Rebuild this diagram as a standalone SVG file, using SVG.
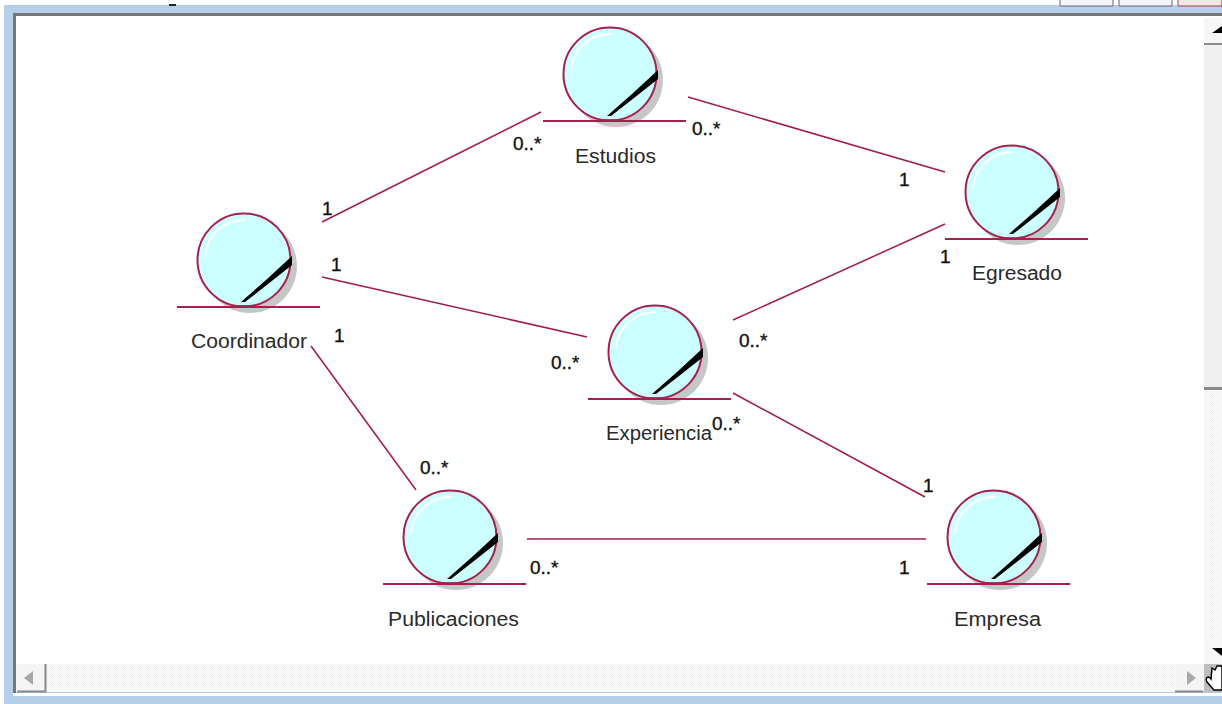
<svg xmlns="http://www.w3.org/2000/svg" width="1222" height="704" viewBox="0 0 1222 704">
<style>
text{font-family:"Liberation Sans",Arial,sans-serif;font-size:20px;fill:#2a2a2a}
.m{fill:#111;font-size:19px;stroke:#111;stroke-width:.35}
.conn line{stroke:#a01c4a;stroke-width:1.5;fill:none}
.circ{fill:#ccffff;stroke:#a5204f;stroke-width:2}
.base{stroke:#a5204f;stroke-width:2;fill:none}
.shine{fill:none;stroke:#fff;stroke-width:2}
.sh{fill:#c6c6c6}
</style>
<defs>
<pattern id="dots" width="2" height="2" patternUnits="userSpaceOnUse"><rect width="2" height="2" fill="#fff"/><rect width="1" height="1" fill="#efefef"/><rect x="1" y="1" width="1" height="1" fill="#efefef"/></pattern>
<g id="ent">
<circle class="sh" cx="6" cy="6" r="47"/>
<circle class="circ" r="46.500"/>
<path class="shine" d="M-39 -3A39 39 0 0 1 1 -40"/>
<polygon points="-3,42 22,20 48,-4 48,5 24,24 1,42" fill="#000"/>
<line class="base" x1="-67" y1="47" x2="76" y2="47"/>
<line x1="-10" y1="46" x2="10" y2="46" stroke="#a5204f" stroke-width="1.500"/>
</g>
</defs>
<rect width="1222" height="704" fill="#fff"/>
<path d="M4 5H1222V14H16V692H1222V704H4Z" fill="#b6cfe8"/>
<path d="M14.500 693V14.500H1222" fill="none" stroke="#777" stroke-width="3"/>
<rect x="13" y="693" width="1209" height="3" fill="#fff"/>
<path d="M1060 0V6H1113V0M1119 0V6H1172V0" fill="#f3f5f8" stroke="#667"/>
<path d="M1178 0V6H1222V0" fill="#f6e6e6" stroke="#a04050"/>
<rect x="169" y="4" width="7" height="2" fill="#223"/>
<g id="scrollbars">
<rect x="16" y="664" width="1188" height="28" fill="url(#dots)"/>
<rect x="1204" y="390" width="18" height="250" fill="url(#dots)"/>
<rect x="1204" y="44" width="18" height="344" fill="#f0f0f0"/>
<rect x="1204" y="387" width="18" height="3" fill="#8a8a8a"/>
<rect x="1204" y="18" width="18" height="25" fill="#f6f6f6"/>
<rect x="1204" y="43" width="18" height="2" fill="#8a8a8a"/>
<polygon points="1212,33 1222,26 1222,33" fill="#000"/>
<rect x="1204" y="640" width="18" height="24" fill="#f6f6f6"/>
<polygon points="1212,648 1222,648 1222,656" fill="#000"/>
<rect x="17" y="664" width="29" height="27" fill="#f4f4f4"/>
<path d="M45.500 664V691.500H17" fill="none" stroke="#888" stroke-width="2"/>
<polygon points="24,678 33,671 33,685" fill="#a8a8a8"/>
<rect x="1175" y="664" width="29" height="27" fill="#f4f4f4"/>
<path d="M1175 691.500H1203" fill="none" stroke="#888" stroke-width="2"/>
<polygon points="1196,678 1187,671 1187,685" fill="#a8a8a8"/>
<rect x="1204" y="664" width="18" height="28" fill="#bdbdbd"/>
<path d="M1214 690L1207 682C1205 678 1208 675 1211 679L1212 668L1215 670L1217 666L1222 666V690Z" fill="#fff" stroke="#000" stroke-width="1.500"/>
</g>
<g class="conn" id="connectors">
<line x1="322" y1="222" x2="541" y2="112"/>
<line x1="688" y1="97" x2="945" y2="172"/>
<line x1="322" y1="277" x2="587" y2="337"/>
<line x1="733" y1="320" x2="945" y2="224"/>
<line x1="311" y1="346" x2="416" y2="490"/>
<line x1="733" y1="393" x2="925" y2="497"/>
<line x1="527" y1="539" x2="926" y2="539"/>
</g>
<g id="labels">
<text class="m" x="322" y="215">1</text>
<text class="m" x="513" y="150">0..*</text>
<text class="m" x="692" y="135">0..*</text>
<text class="m" x="899" y="186">1</text>
<text class="m" x="331" y="271">1</text>
<text class="m" x="551" y="369">0..*</text>
<text class="m" x="739" y="347">0..*</text>
<text class="m" x="940" y="263">1</text>
<text class="m" x="334" y="342">1</text>
<text class="m" x="420" y="474">0..*</text>
<text class="m" x="712" y="430">0..*</text>
<text class="m" x="923" y="492">1</text>
<text class="m" x="530" y="574">0..*</text>
<text class="m" x="899" y="574">1</text>
</g>
<g id="estudios"><use href="#ent" x="610" y="74"/><text x="575" y="163" textLength="81" lengthAdjust="spacingAndGlyphs">Estudios</text></g>
<g id="egresado"><use href="#ent" x="1012" y="192"/><text x="972" y="280" textLength="90" lengthAdjust="spacingAndGlyphs">Egresado</text></g>
<g id="coordinador"><use href="#ent" x="244" y="260"/><text x="191" y="348" textLength="116" lengthAdjust="spacingAndGlyphs">Coordinador</text></g>
<g id="experiencia"><use href="#ent" x="655" y="352"/><text x="606" y="440" textLength="106" lengthAdjust="spacingAndGlyphs">Experiencia</text></g>
<g id="publicaciones"><use href="#ent" x="450" y="537"/><text x="388" y="626" textLength="131" lengthAdjust="spacingAndGlyphs">Publicaciones</text></g>
<g id="empresa"><use href="#ent" x="994" y="537"/><text x="954" y="626" textLength="87" lengthAdjust="spacingAndGlyphs">Empresa</text></g>
</svg>
